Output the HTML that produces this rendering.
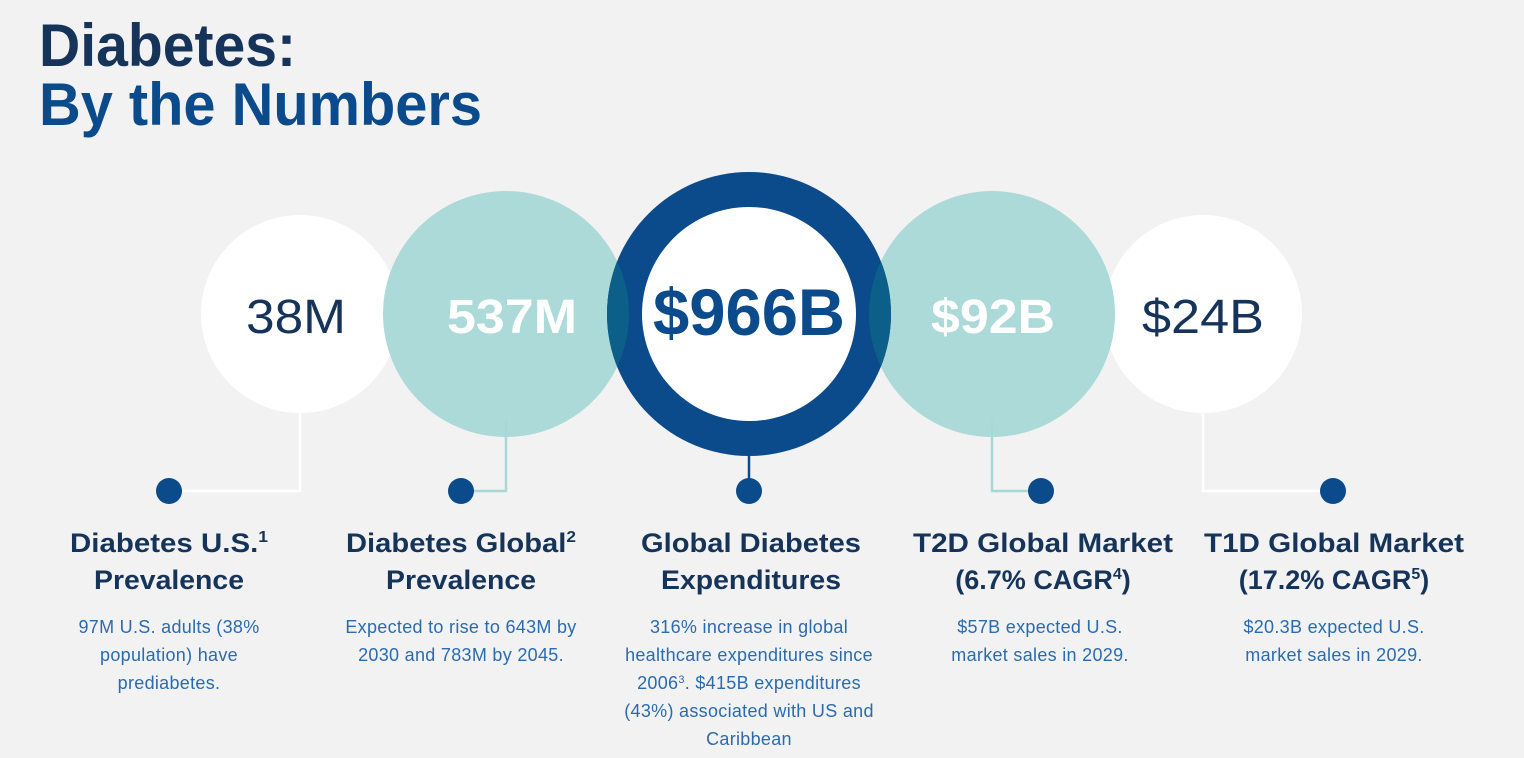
<!DOCTYPE html>
<html><head><meta charset="utf-8"><style>
html,body{margin:0;padding:0;background:#f2f2f2;}
svg{display:block;font-family:"Liberation Sans",sans-serif;}
</style></head><body>
<svg width="1524" height="758" viewBox="0 0 1524 758" xmlns="http://www.w3.org/2000/svg">
<rect width="1524" height="758" fill="#f2f2f2"/>
<text x="39" y="66" font-size="60" font-weight="bold" fill="#16345a" textLength="257" lengthAdjust="spacingAndGlyphs">Diabetes:</text>
<text x="39" y="125" font-size="60" font-weight="bold" fill="#0b4a8b" textLength="443" lengthAdjust="spacingAndGlyphs">By the Numbers</text>

<g fill="none" stroke-width="2.5">
<polyline points="300,400 300,491 169,491" stroke="#ffffff"/>
<polyline points="506,420 506,491 461,491" stroke="#a8d8d6"/>
<polyline points="749,440 749,491" stroke="#0b4a8b"/>
<polyline points="992,420 992,491 1041,491" stroke="#a8d8d6"/>
<polyline points="1203,400 1203,491 1333,491" stroke="#ffffff"/>
</g>
<g fill="#0b4a8b">
<circle cx="169" cy="491" r="13"/><circle cx="461" cy="491" r="13"/><circle cx="749" cy="491" r="13"/><circle cx="1041" cy="491" r="13"/><circle cx="1333" cy="491" r="13"/>
</g>

<defs>
<clipPath id="ring"><circle cx="749" cy="314" r="142"/></clipPath>
</defs>
<circle cx="300" cy="314" r="99" fill="#ffffff"/>
<circle cx="1203" cy="314" r="99" fill="#ffffff"/>
<circle cx="506" cy="314" r="123" fill="#a8d8d6" fill-opacity="0.95"/>
<circle cx="992" cy="314" r="123" fill="#a8d8d6" fill-opacity="0.95"/>
<circle cx="749" cy="314" r="142" fill="#0b4a8b"/>
<g clip-path="url(#ring)">
<circle cx="506" cy="314" r="123" fill="#0c5f89"/>
<circle cx="992" cy="314" r="123" fill="#0c5f89"/>
</g>
<circle cx="749" cy="314" r="107" fill="#ffffff"/>

<g text-anchor="middle">
<text x="296" y="333" font-size="48" fill="#16345a" textLength="100" lengthAdjust="spacingAndGlyphs">38M</text>
<text x="512" y="333" font-size="48" font-weight="bold" fill="#ffffff" textLength="130" lengthAdjust="spacingAndGlyphs">537M</text>
<text x="749" y="335" font-size="66" font-weight="bold" fill="#0b4a8b" textLength="192" lengthAdjust="spacingAndGlyphs">$966B</text>
<text x="993" y="333" font-size="48" font-weight="bold" fill="#ffffff" textLength="124" lengthAdjust="spacingAndGlyphs">$92B</text>
<text x="1203" y="333" font-size="48" fill="#16345a" textLength="122" lengthAdjust="spacingAndGlyphs">$24B</text>

<g font-size="27" font-weight="bold" fill="#16345a">
<text x="169" y="552" textLength="198" lengthAdjust="spacingAndGlyphs">Diabetes U.S.<tspan font-size="16" dy="-10">1</tspan></text>
<text x="169" y="589" textLength="150" lengthAdjust="spacingAndGlyphs">Prevalence</text>
<text x="461" y="552" textLength="230" lengthAdjust="spacingAndGlyphs">Diabetes Global<tspan font-size="16" dy="-10">2</tspan></text>
<text x="461" y="589" textLength="150" lengthAdjust="spacingAndGlyphs">Prevalence</text>
<text x="751" y="552" textLength="220" lengthAdjust="spacingAndGlyphs">Global Diabetes</text>
<text x="751" y="589" textLength="180" lengthAdjust="spacingAndGlyphs">Expenditures</text>
<text x="1043" y="552" textLength="260" lengthAdjust="spacingAndGlyphs">T2D Global Market</text>
<text x="1043" y="589">(6.7% CAGR<tspan font-size="16" dy="-10">4</tspan><tspan dy="10">)</tspan></text>
<text x="1334" y="552" textLength="260" lengthAdjust="spacingAndGlyphs">T1D Global Market</text>
<text x="1334" y="589">(17.2% CAGR<tspan font-size="16" dy="-10">5</tspan><tspan dy="10">)</tspan></text>
</g>
<g font-size="18" fill="#2a6bb0" letter-spacing="0.3">
<text x="169" y="633">97M U.S. adults (38%</text>
<text x="169" y="661">population) have</text>
<text x="169" y="689">prediabetes.</text>
<text x="461" y="633">Expected to rise to 643M by</text>
<text x="461" y="661">2030 and 783M by 2045.</text>
<text x="749" y="633">316% increase in global</text>
<text x="749" y="661">healthcare expenditures since</text>
<text x="749" y="689">2006<tspan font-size="11" dy="-6">3</tspan><tspan dy="6">. $415B expenditures</tspan></text>
<text x="749" y="717">(43%) associated with US and</text>
<text x="749" y="745">Caribbean</text>
<text x="1040" y="633">$57B expected U.S.</text>
<text x="1040" y="661">market sales in 2029.</text>
<text x="1334" y="633">$20.3B expected U.S.</text>
<text x="1334" y="661">market sales in 2029.</text>
</g>
</g>
</svg>
</body></html>
